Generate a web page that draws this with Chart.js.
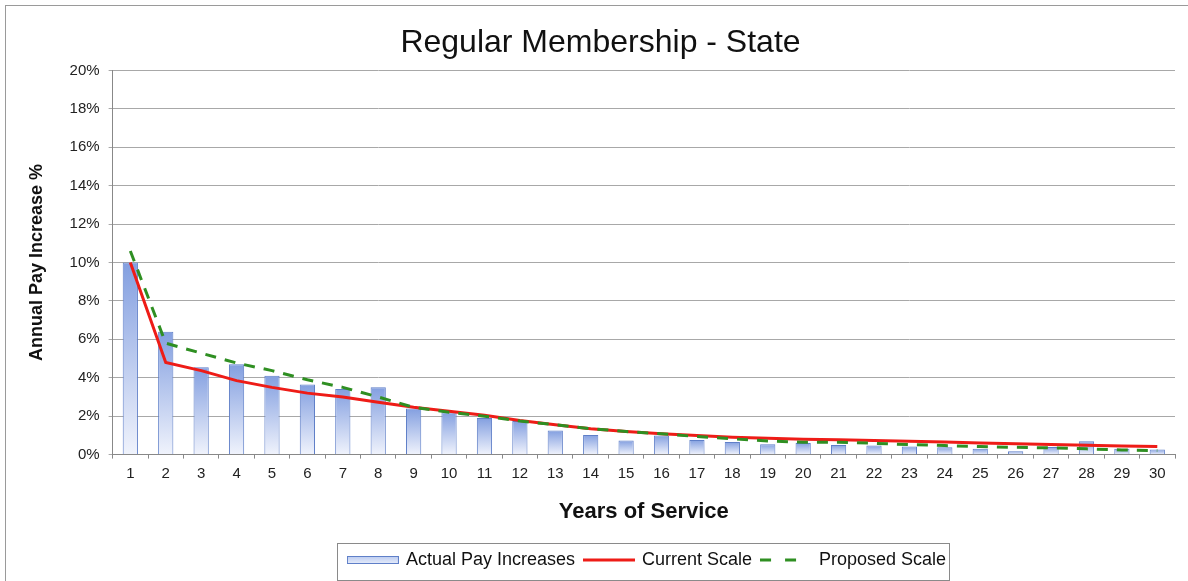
<!DOCTYPE html>
<html>
<head>
<meta charset="utf-8">
<script src="https://cdn.jsdelivr.net/npm/chart.js@4.4.1/dist/chart.umd.min.js"></script>
<style>
  html, body { margin: 0; padding: 0; background: #fff; }
  #wrap { position: relative; width: 1188px; height: 581px; }
</style>
</head>
<body>
<div id="wrap"><canvas id="chart" width="1188" height="581"></canvas></div>
<script>
const years = Array.from({ length: 30 }, (_, i) => String(i + 1));
const actual = [10.0, 6.4, 4.55, 4.7, 4.1, 3.65, 3.42, 3.5, 2.4, 2.2,
  1.9, 1.75, 1.25, 1.02, 0.73, 1.0, 0.76, 0.66, 0.54, 0.6,
  0.5, 0.47, 0.42, 0.38, 0.3, 0.17, 0.4, 0.7, 0.3, 0.26];
const currentScale = [10.0, 4.8, 4.37, 3.85, 3.5, 3.2, 3.0, 2.72, 2.46, 2.26,
  2.05, 1.77, 1.55, 1.34, 1.2, 1.08, 0.99, 0.9, 0.85, 0.8,
  0.77, 0.73, 0.69, 0.65, 0.61, 0.57, 0.53, 0.49, 0.45, 0.42];
const proposedScale = [10.6, 5.8, 5.28, 4.77, 4.37, 3.9, 3.5, 3.0, 2.46, 2.2,
  2.0, 1.75, 1.55, 1.35, 1.2, 1.08, 0.94, 0.82, 0.71, 0.64,
  0.64, 0.59, 0.52, 0.47, 0.42, 0.38, 0.35, 0.3, 0.24, 0.21];
const yTicks = [0, 2, 4, 6, 8, 10, 12, 14, 16, 18, 20];

const FONT = '"Liberation Sans", Arial, sans-serif';
const RED = '#ee1c17';
const GREEN = '#2f8f22';
const BAR_EDGE = '#5f7fc8';

// legend swatches, drawn once as little canvases
function swatch(kind) {
  const c = document.createElement('canvas');
  c.width = 52; c.height = 10;
  const g = c.getContext('2d');
  if (kind === 'bar') {
    const gr = g.createLinearGradient(0, 0, 0, 10);
    gr.addColorStop(0, '#b4c6ef');
    gr.addColorStop(1, '#eef2fc');
    g.fillStyle = gr;
    g.fillRect(1, 2, 50, 6);
    g.strokeStyle = BAR_EDGE;
    g.lineWidth = 1;
    g.strokeRect(0.5, 1.5, 51, 7);
  } else if (kind === 'red') {
    g.strokeStyle = RED; g.lineWidth = 3;
    g.beginPath(); g.moveTo(0, 5); g.lineTo(52, 5); g.stroke();
  } else {
    g.strokeStyle = GREEN; g.lineWidth = 3;
    g.beginPath(); g.moveTo(0, 5); g.lineTo(11, 5); g.moveTo(25, 5); g.lineTo(36, 5); g.stroke();
  }
  return c;
}
const swatches = [swatch('bar'), swatch('red'), swatch('green')];

function barGradient(ctx) {
  const chart = ctx.chart;
  const y = chart.scales.y;
  if (ctx.type !== 'data' || !y || !chart.chartArea) return '#a9bfee';
  const top = y.getPixelForValue(ctx.raw);
  const bottom = y.getPixelForValue(0);
  const g = chart.ctx.createLinearGradient(0, top, 0, bottom);
  g.addColorStop(0, '#839fe0');
  g.addColorStop(1, '#f0f3fc');
  return g;
}

const framePlugin = {
  id: 'frame',
  // centre the legend under the plot area rather than the whole canvas
  afterLayout(chart) {
    const lg = chart.legend, ca = chart.chartArea;
    if (!lg || !ca) return;
    const shift = Math.round((ca.left + ca.right) / 2 - (lg.left + lg.right) / 2) + 4;
    lg.left += shift;
    lg.right += shift;
  },
  beforeDraw(chart) {
    const c = chart.ctx;
    c.save();
    c.strokeStyle = '#9a9a9a';
    c.lineWidth = 1;
    c.strokeRect(5.5, 5.5, 1200, 620);
    c.restore();
  },
  afterDraw(chart) {
    const boxes = chart.legend && chart.legend.legendHitBoxes;
    if (!boxes || !boxes.length) return;
    const l = Math.min(...boxes.map(b => b.left)) - 12;
    const r = Math.max(...boxes.map(b => b.left + b.width)) + 3;
    const mid = boxes[0].top + boxes[0].height / 2;
    const c = chart.ctx;
    c.save();
    c.strokeStyle = '#8a8a8a';
    c.lineWidth = 1;
    c.strokeRect(Math.round(l) + 0.5, Math.round(mid - 17) + 0.5, Math.round(r - l), 37);
    c.restore();
  }
};

new Chart(document.getElementById('chart'), {
  type: 'bar',
  data: {
    labels: years,
    datasets: [
      { type: 'bar', label: 'Actual Pay Increases', data: actual, backgroundColor: barGradient,
        borderColor: BAR_EDGE, borderWidth: 1, barPercentage: 0.43, categoryPercentage: 1, order: 3 },
      { type: 'line', label: 'Current Scale', data: currentScale, borderColor: RED, backgroundColor: RED,
        borderWidth: 3, pointRadius: 0, tension: 0, fill: false, order: 2 },
      { type: 'line', label: 'Proposed Scale', data: proposedScale, borderColor: GREEN, backgroundColor: GREEN,
        borderWidth: 3, borderDash: [11, 9], pointRadius: 0, tension: 0, fill: false, order: 1 }
    ]
  },
  options: {
    responsive: false,
    animation: false,
    layout: { padding: { left: 26, right: 13, top: 14, bottom: 2 } },
    plugins: {
      title: { display: true, text: 'Regular Membership - State', color: '#111',
        font: { family: FONT, size: 32, weight: 'normal' }, padding: { top: 10, bottom: 8 } },
      tooltip: { enabled: false },
      legend: {
        position: 'bottom',
        labels: {
          usePointStyle: true,
          pointStyleWidth: 48,
          padding: 10,
          color: '#111',
          font: { family: FONT, size: 18 },
          generateLabels(chart) {
            return chart.data.datasets.map((ds, i) => ({
              text: ds.label, pointStyle: swatches[i], datasetIndex: i,
              fillStyle: 'transparent', strokeStyle: 'transparent', lineWidth: 0, fontColor: '#111'
            }));
          }
        }
      }
    },
    scales: {
      x: {
        grid: { display: true, drawOnChartArea: false, offset: true, tickLength: 4, color: '#888' },
        border: { color: '#888' },
        ticks: { color: '#222', font: { family: FONT, size: 15 }, padding: 6, maxRotation: 0, autoSkip: false },
        title: { display: true, text: 'Years of Service', color: '#111',
          font: { family: FONT, size: 22, weight: 'bold' }, padding: { top: 10, bottom: 16 } }
      },
      y: {
        min: 0, max: 20,
        afterBuildTicks(scale) { scale.ticks = yTicks.map(v => ({ value: v })); },
        grid: { color: '#a8a8a8', tickLength: 4 },
        border: { color: '#888' },
        ticks: { color: '#222', font: { family: FONT, size: 15 }, padding: 9, callback: v => v + '%' },
        title: { display: true, text: 'Annual Pay Increase %', color: '#111',
          font: { family: FONT, size: 18, weight: 'bold' }, padding: { top: 0, bottom: 13 } }
      }
    }
  },
  plugins: [framePlugin]
});
</script>
</body>
</html>
